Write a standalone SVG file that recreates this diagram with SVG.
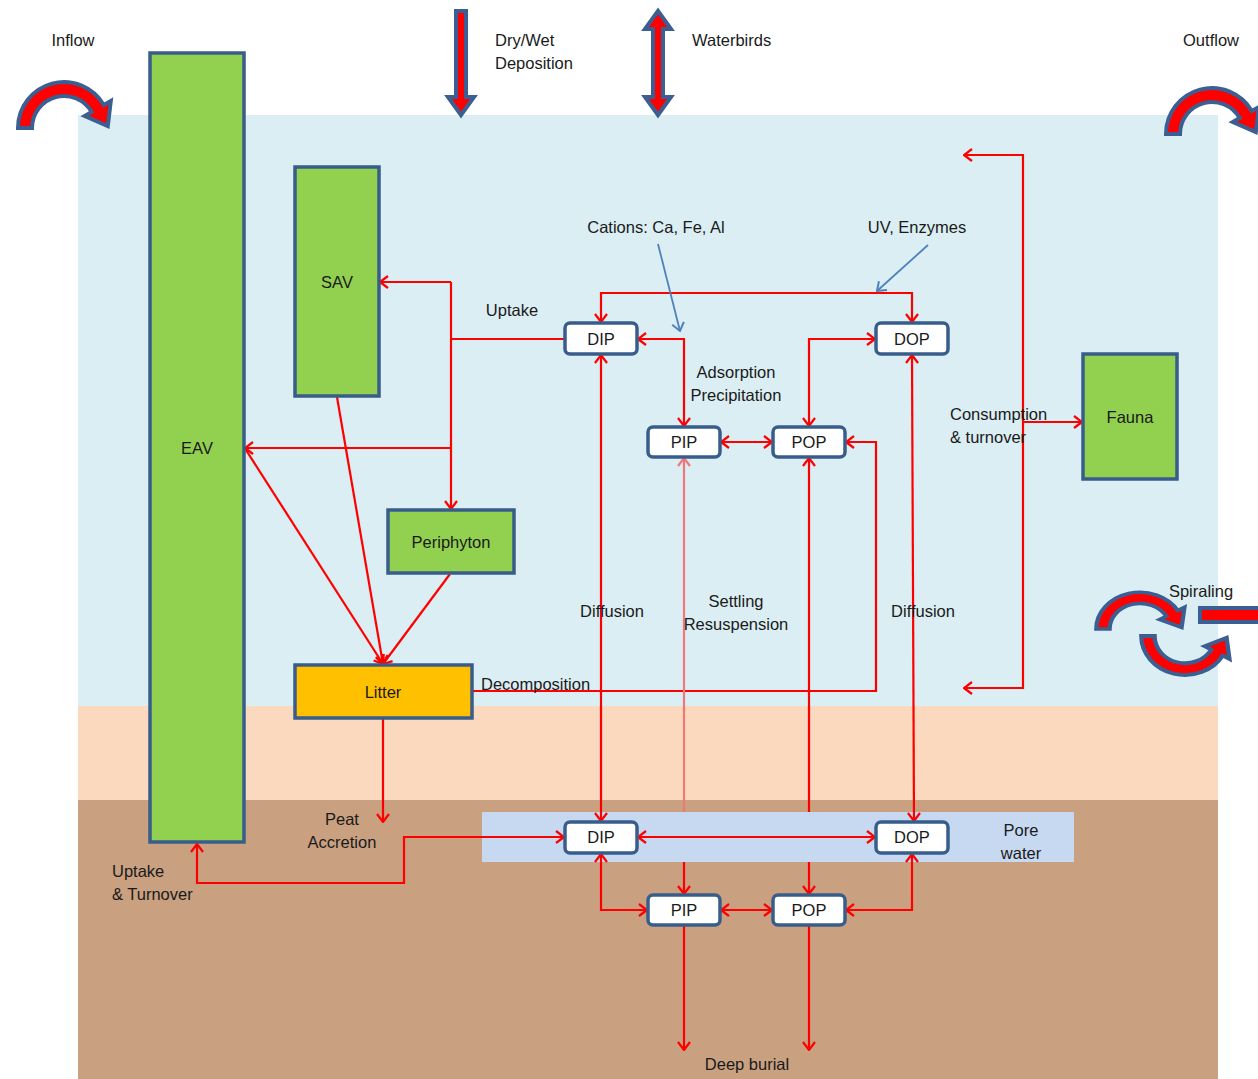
<svg xmlns="http://www.w3.org/2000/svg" width="1258" height="1079" viewBox="0 0 1258 1079">
<style>
text{font-family:"Liberation Sans",Arial,sans-serif;font-size:16.5px;fill:#1a1a1a}
.c{text-anchor:middle}
.veg{fill:#92d050;stroke:#385d8a;stroke-width:3.5}
.box{fill:#ffffff;stroke:#385d8a;stroke-width:3.5}
.ln{fill:none;stroke:#ff0000;stroke-width:2.2}
.bl{fill:none;stroke:#4f81bd;stroke-width:1.8}
.blk{fill:#ff0000;stroke:#3b5f92;stroke-width:4;stroke-linejoin:miter}
</style>
<defs>
<marker id="a" viewBox="0 0 10 14" refX="9" refY="7" markerWidth="10" markerHeight="14" markerUnits="userSpaceOnUse" orient="auto-start-reverse">
<path d="M1,1 L9,7 L1,13" fill="none" stroke="#ff0000" stroke-width="2.2"/>
</marker>
<marker id="ap" viewBox="0 0 10 14" refX="9" refY="7" markerWidth="10" markerHeight="14" markerUnits="userSpaceOnUse" orient="auto-start-reverse">
<path d="M1,1 L9,7 L1,13" fill="none" stroke="#f07878" stroke-width="2.2"/>
</marker>
<marker id="b" viewBox="0 0 10 14" refX="9" refY="7" markerWidth="10" markerHeight="14" markerUnits="userSpaceOnUse" orient="auto">
<path d="M1,1 L9,7 L1,13" fill="none" stroke="#4f81bd" stroke-width="2"/>
</marker>
<path id="curl" d="M-46,0 A46,46 0 0 1 39.8,-23 L46.8,-27 L43.8,-2 L20.8,-12 L27.7,-16 A32,32 0 0 0 -32,0 Z"/>
</defs>

<g id="background">
<rect x="0" y="0" width="1258" height="1079" fill="#ffffff"/>
<rect x="78" y="115" width="1140" height="592" fill="#daeef3"/>
<rect x="78" y="706" width="1140" height="95" fill="#fad9be"/>
<rect x="78" y="800" width="1140" height="279" fill="#c9a080"/>
<rect x="482" y="812" width="592" height="50" fill="#c6d9f1"/>
</g>

<g id="flux-arrows">
<use href="#curl" class="blk" transform="translate(64,128)"/>
<use href="#curl" class="blk" transform="translate(1212,134)"/>
<use href="#curl" class="blk" transform="translate(1140,629) scale(0.95,0.8)" style="stroke-width:4.5"/>
<use href="#curl" class="blk" transform="translate(1185,636) scale(0.95,-0.85)" style="stroke-width:4.5"/>
<rect x="1200" y="608" width="70" height="14" class="blk"/>
<polygon class="blk" points="456,11 466,11 466,97 474,97 461,115 448,97 456,97"/>
<polygon class="blk" points="658,11 671,29 663,29 663,97 671,97 658,115 645,97 653,97 653,29 645,29"/>
</g>

<g id="connectors">
<!-- uptake -->
<path class="ln" d="M565,339 H451"/>
<path class="ln" d="M451,282 V509" marker-end="url(#a)"/>
<path class="ln" d="M451,282 H380" marker-end="url(#a)"/>
<path class="ln" d="M451,448 H245" marker-end="url(#a)"/>
<!-- to litter -->
<path class="ln" d="M246,450 L383,664" marker-end="url(#a)"/>
<path class="ln" d="M337,397 L383,664" marker-end="url(#a)"/>
<path class="ln" d="M450,574 L383,664" marker-end="url(#a)"/>
<path class="ln" d="M383,719 V822" marker-end="url(#a)"/>
<!-- uptake & turnover -->
<path class="ln" d="M564,837 H404 V883 H197 V844" marker-start="url(#a)" marker-end="url(#a)"/>
<!-- decomposition -->
<path class="ln" d="M473,691 H876 V442 H846" marker-end="url(#a)"/>
<!-- top loop -->
<path class="ln" d="M601,322 V293 H912 V322" marker-start="url(#a)" marker-end="url(#a)"/>
<!-- adsorption -->
<path class="ln" d="M638,339 H684 V426" marker-start="url(#a)" marker-end="url(#a)"/>
<path class="ln" d="M875,339 H809 V426" marker-start="url(#a)" marker-end="url(#a)"/>
<path class="ln" d="M721,442 H772" marker-start="url(#a)" marker-end="url(#a)"/>
<!-- diffusion -->
<path class="ln" d="M601,355 V821" marker-start="url(#a)" marker-end="url(#a)"/>
<path class="ln" d="M912,355 L914,821" marker-start="url(#a)" marker-end="url(#a)"/>
<!-- settling / resuspension -->
<path class="ln" d="M684,812 V458" style="stroke:#f07878" marker-end="url(#ap)"/>
<path class="ln" d="M809,812 V458" marker-end="url(#a)"/>
<path class="ln" d="M684,862 V894" marker-end="url(#a)"/>
<path class="ln" d="M809,862 V894" marker-end="url(#a)"/>
<!-- pore water -->
<path class="ln" d="M638,837 H875" marker-start="url(#a)" marker-end="url(#a)"/>
<path class="ln" d="M601,854 V910 H647" marker-start="url(#a)" marker-end="url(#a)"/>
<path class="ln" d="M912,854 V910 H846" marker-start="url(#a)" marker-end="url(#a)"/>
<path class="ln" d="M721,910 H772" marker-start="url(#a)" marker-end="url(#a)"/>
<!-- deep burial -->
<path class="ln" d="M684,926 V1050" marker-end="url(#a)"/>
<path class="ln" d="M809,926 V1050" marker-end="url(#a)"/>
<!-- consumption -->
<path class="ln" d="M964,155 H1023 V688 H964" marker-start="url(#a)" marker-end="url(#a)"/>
<path class="ln" d="M1023,422 H1082" marker-end="url(#a)"/>
<!-- cations / UV -->
<path class="bl" d="M658,244 L680,331" marker-end="url(#b)"/>
<path class="bl" d="M928,245 L877,291" marker-end="url(#b)"/>
</g>

<g id="EAV"><rect class="veg" x="150" y="53" width="94" height="789"/><text class="c" x="197" y="454">EAV</text></g>
<g id="SAV"><rect class="veg" x="295" y="167" width="84" height="229"/><text class="c" x="337" y="288">SAV</text></g>
<g id="Periphyton"><rect class="veg" x="388" y="510" width="126" height="63"/><text class="c" x="451" y="548">Periphyton</text></g>
<g id="Litter"><rect x="295" y="665" width="177" height="53" fill="#ffc000" stroke="#385d8a" stroke-width="3.5"/><text class="c" x="383" y="698">Litter</text></g>
<g id="Fauna"><rect class="veg" x="1083" y="354" width="94" height="125"/><text class="c" x="1130" y="423">Fauna</text></g>

<g id="DIP-water"><rect class="box" x="565" y="323" width="72" height="31" rx="5"/><text class="c" x="601" y="345">DIP</text></g>
<g id="DOP-water"><rect class="box" x="876" y="323" width="72" height="31" rx="5"/><text class="c" x="912" y="345">DOP</text></g>
<g id="PIP-water"><rect class="box" x="648" y="427" width="72" height="30" rx="5"/><text class="c" x="684" y="448">PIP</text></g>
<g id="POP-water"><rect class="box" x="773" y="427" width="72" height="30" rx="5"/><text class="c" x="809" y="448">POP</text></g>
<g id="DIP-pore"><rect class="box" x="565" y="822" width="72" height="31" rx="5"/><text class="c" x="601" y="843">DIP</text></g>
<g id="DOP-pore"><rect class="box" x="876" y="822" width="72" height="31" rx="5"/><text class="c" x="912" y="843">DOP</text></g>
<g id="PIP-soil"><rect class="box" x="648" y="895" width="72" height="30" rx="5"/><text class="c" x="684" y="916">PIP</text></g>
<g id="POP-soil"><rect class="box" x="773" y="895" width="72" height="30" rx="5"/><text class="c" x="809" y="916">POP</text></g>

<g id="labels">
<text class="c" x="73" y="46">Inflow</text>
<text x="495" y="46">Dry/Wet</text>
<text x="495" y="69">Deposition</text>
<text x="692" y="46">Waterbirds</text>
<text class="c" x="1211" y="46">Outflow</text>
<text class="c" x="656" y="233">Cations: Ca, Fe, Al</text>
<text class="c" x="917" y="233">UV, Enzymes</text>
<text class="c" x="512" y="316">Uptake</text>
<text class="c" x="736" y="378">Adsorption</text>
<text class="c" x="736" y="401">Precipitation</text>
<text x="950" y="420">Consumption</text>
<text x="950" y="443">&amp; turnover</text>
<text class="c" x="612" y="617">Diffusion</text>
<text class="c" x="736" y="607">Settling</text>
<text class="c" x="736" y="630">Resuspension</text>
<text class="c" x="923" y="617">Diffusion</text>
<text x="481" y="690">Decomposition</text>
<text class="c" x="1201" y="597">Spiraling</text>
<text class="c" x="342" y="825">Peat</text>
<text class="c" x="342" y="848">Accretion</text>
<text x="112" y="877">Uptake</text>
<text x="112" y="900">&amp; Turnover</text>
<text class="c" x="1021" y="836">Pore</text>
<text class="c" x="1021" y="859">water</text>
<text class="c" x="747" y="1070">Deep burial</text>
</g>
</svg>
